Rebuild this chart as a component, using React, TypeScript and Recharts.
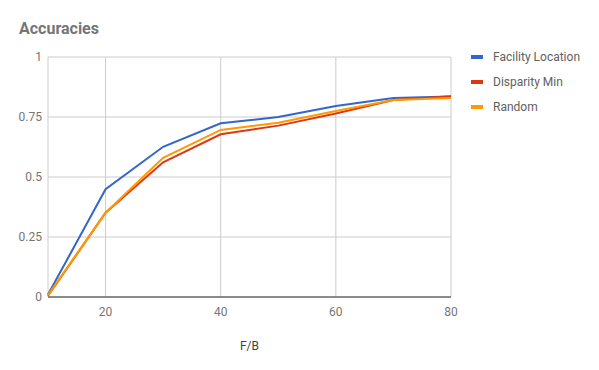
import { LineChart, Line, XAxis, YAxis, CartesianGrid } from 'recharts';

const fb = [10, 20, 30, 40, 50, 60, 70, 80];
const facilityLocation = [0.01, 0.449, 0.626, 0.724, 0.75, 0.796, 0.829, 0.835];
const disparityMin = [0.005, 0.351, 0.561, 0.678, 0.714, 0.765, 0.821, 0.836];
const random = [0.008, 0.351, 0.58, 0.696, 0.726, 0.775, 0.821, 0.829];
const xTicks = [20, 40, 60, 80];
const yTicks = [0, 0.25, 0.5, 0.75, 1];

const series = [
    { key: 'facility', name: 'Facility Location', color: '#3366cc' },
    { key: 'disparity', name: 'Disparity Min', color: '#dc3912' },
    { key: 'random', name: 'Random', color: '#ff9900' },
];

const data = fb.map((x, i) => ({
    fb: x,
    facility: facilityLocation[i],
    disparity: disparityMin[i],
    random: random[i],
}));

const font = 'Roboto, Arial, sans-serif';

export default function App() {
    return (
        <div style={{ position: 'absolute', top: 0, left: 0, width: 599, height: 370, background: '#fff', fontFamily: font }}>
            <div style={{ position: 'absolute', left: 19, top: 19, fontSize: 16, fontWeight: 700, color: '#757575', lineHeight: '19px' }}>
                Accuracies
            </div>
            <div style={{ position: 'absolute', left: 471, top: 50 }}>
                {series.map((s) => (
                    <div key={s.key} style={{ display: 'flex', alignItems: 'center', height: 14, marginBottom: 11 }}>
                        <div style={{ width: 12, height: 4, background: s.color, marginRight: 10 }} />
                        <span style={{ fontSize: 12, color: '#616161' }}>{s.name}</span>
                    </div>
                ))}
            </div>
            <LineChart width={599} height={370} data={data} margin={{ top: 57, right: 148, left: 8, bottom: 0 }}>
                <CartesianGrid stroke="#cccccc" strokeWidth={1} />
                <XAxis
                    dataKey="fb"
                    type="number"
                    domain={[10, 80]}
                    ticks={xTicks}
                    height={73}
                    tickLine={false}
                    tickSize={0}
                    tickMargin={10}
                    axisLine={{ stroke: '#333333', strokeWidth: 1 }}
                    tick={{ fill: '#757575', fontSize: 12, fontFamily: font }}
                    label={{ value: 'F/B', position: 'insideBottom', offset: 20, fill: '#444444', fontSize: 12, fontFamily: font }}
                />
                <YAxis
                    type="number"
                    domain={[0, 1]}
                    ticks={yTicks}
                    width={40}
                    tickLine={false}
                    axisLine={false}
                    tickSize={0}
                    tickMargin={6}
                    tick={{ fill: '#757575', fontSize: 12, fontFamily: font }}
                />
                {series.map((s) => (
                    <Line
                        key={s.key}
                        type="linear"
                        dataKey={s.key}
                        name={s.name}
                        stroke={s.color}
                        strokeWidth={2}
                        dot={false}
                        isAnimationActive={false}
                    />
                ))}
            </LineChart>
        </div>
    );
}
